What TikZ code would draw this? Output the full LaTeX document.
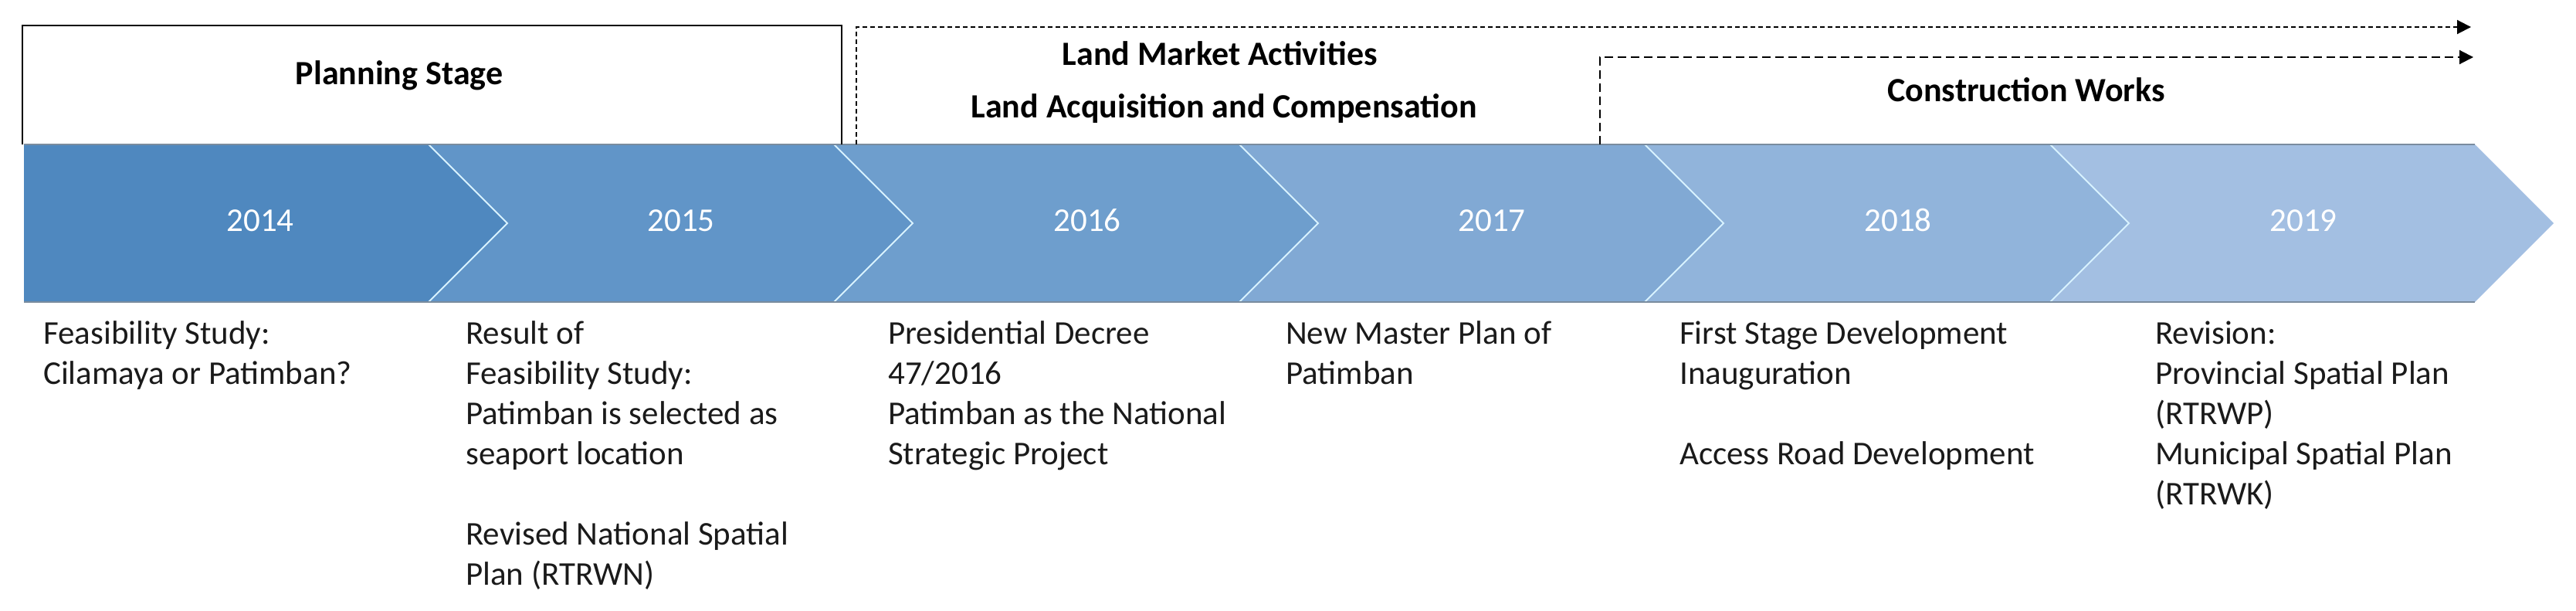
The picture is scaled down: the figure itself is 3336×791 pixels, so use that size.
\documentclass[tikz,border=0pt]{standalone}
\usepackage{fontspec}
\setmainfont{Carlito}
\usetikzlibrary{arrows.meta}
\definecolor{cA}{HTML}{4F88BF}
\definecolor{cB}{HTML}{6195C8}
\definecolor{cC}{HTML}{6E9ECD}
\definecolor{cD}{HTML}{81A9D4}
\definecolor{cE}{HTML}{91B4DB}
\definecolor{cF}{HTML}{A3BFE2}
\definecolor{sep}{HTML}{D8F2FF}
\definecolor{edge}{HTML}{7A8C9E}
\definecolor{txt}{HTML}{1A1A1A}
\begin{document}
\begin{tikzpicture}[x=1pt,y=-1pt,
  yearlbl/.style={text=white, font=\fontsize{43}{50}\selectfont, anchor=base, inner sep=0pt},
  desc/.style={anchor=base west, inner sep=0pt, align=left, text=txt, font=\fontsize{43}{52}\selectfont},
  ttl/.style={anchor=base, inner sep=0pt, text=black, font=\fontsize{44}{50}\selectfont\bfseries},
  solidframe/.style={draw=black, line width=2pt},
  dashedA/.style={draw=black, line width=2pt, dash pattern=on 6pt off 4pt, -{Triangle[length=18pt,width=18pt]}},
  dashedB/.style={draw=black, line width=2pt, dash pattern=on 11pt off 6pt, -{Triangle[length=18pt,width=18pt]}},
  sepline/.style={draw=sep, line width=2pt},
  edgeline/.style={draw=edge, line width=1.5pt}
]
\useasboundingbox (0,0) rectangle (3336,791);
% chevrons
\def\T{187}\def\B{391}\def\M{289}
\fill[cA] (31,\T) -- (555,\T) -- (657,\M) -- (555,\B) -- (31,\B) -- cycle;
\fill[cB] (555,\T) -- (1080,\T) -- (1182,\M) -- (1080,\B) -- (555,\B) -- (657,\M) -- cycle;
\fill[cC] (1080,\T) -- (1605,\T) -- (1707,\M) -- (1605,\B) -- (1080,\B) -- (1182,\M) -- cycle;
\fill[cD] (1605,\T) -- (2130,\T) -- (2232,\M) -- (2130,\B) -- (1605,\B) -- (1707,\M) -- cycle;
\fill[cE] (2130,\T) -- (2655,\T) -- (2757,\M) -- (2655,\B) -- (2130,\B) -- (2232,\M) -- cycle;
\fill[cF] (2655,\T) -- (3205,\T) -- (3307,\M) -- (3205,\B) -- (2655,\B) -- (2757,\M) -- cycle;
\foreach \x in {555,1080,1605,2130,2655}{
  \draw[sepline] (\x,\T) -- ({\x+102},\M) -- (\x,\B);
}
\draw[edgeline] (31,\T) -- (3205,\T);
\draw[edgeline] (31,\B) -- (3205,\B);
% years
\node[yearlbl] (y14) at (337,300) {2014};
\node[yearlbl] (y15) at (882,300) {2015};
\node[yearlbl] (y16) at (1408,300) {2016};
\node[yearlbl] (y17) at (1932,300) {2017};
\node[yearlbl] (y18) at (2458,300) {2018};
\node[yearlbl] (y19) at (2983,300) {2019};
% planning frame
\coordinate (pa) at (29,\T);
\coordinate (pb) at (29,33);
\coordinate (pc) at (1090,33);
\coordinate (pd) at (1090,\T);
\draw[solidframe] (pa) -- (pb) -- (pc) -- (pd);
\node[ttl] (plan) at (517,110) {Planning Stage};
% land market
\coordinate (la) at (1109,\T);
\coordinate (lb) at (1109,35);
\coordinate (lc) at (3200,35);
\draw[dashedA] (la) -- (lb) -- (lc);
\node[ttl] (lma) at (1580,85) {Land Market Activities};
\node[ttl] (lac) at (1585,153) {Land Acquisition and Compensation};
% construction
\coordinate (ca) at (2072,\T);
\coordinate (cb) at (2072,74);
\coordinate (cc) at (3203,74);
\draw[dashedB] (ca) -- (cb) -- (cc);
\node[ttl] (cw) at (2624,132) {Construction Works};
% descriptions (anchor = baseline of the last line)
\node[desc] (d14) at (56,497) {Feasibility Study:\\Cilamaya or Patimban?};
\node[desc] (d15) at (603,757) {Result of\\Feasibility Study:\\Patimban is selected as\\seaport location\\[52pt]Revised National Spatial\\Plan (RTRWN)};
\node[desc] (d16) at (1150,601) {Presidential Decree\\47/2016\\Patimban as the National\\Strategic Project};
\node[desc] (d17) at (1665,497) {New Master Plan of\\Patimban};
\node[desc] (d18) at (2175,601) {First Stage Development\\Inauguration\\[52pt]Access Road Development};
\node[desc] (d19) at (2791,653) {Revision:\\Provincial Spatial Plan\\(RTRWP)\\Municipal Spatial Plan\\(RTRWK)};
\end{tikzpicture}
\end{document}
